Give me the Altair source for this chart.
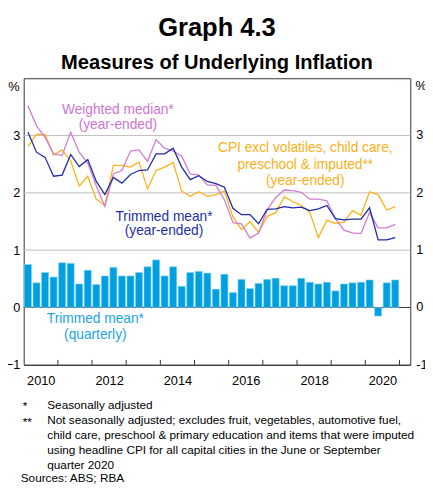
import altair as alt
import pandas as pd

# ---- data (quarterly, Mar-2010 .. Dec-2020) ----
first_year = 2010
n_quarters = 44

trimmed_mean_ye = [3.06, 2.71, 2.62, 2.29, 2.31, 2.67, 2.46, 2.58, 2.20, 1.97,
                   2.27, 2.17, 2.32, 2.39, 2.40, 2.68, 2.68, 2.78, 2.45, 2.23,
                   2.30, 2.20, 2.16, 2.10, 1.73, 1.62, 1.62, 1.46, 1.71, 1.72,
                   1.76, 1.74, 1.75, 1.69, 1.72, 1.78, 1.55, 1.53, 1.54, 1.54,
                   1.74, 1.18, 1.18, 1.22]
weighted_median_ye = [3.52, 3.17, 2.97, 2.68, 2.65, 3.06, 2.71, 2.52, 2.12, 1.76,
                      2.33, 2.39, 2.73, 2.75, 2.55, 2.93, 2.78, 2.73, 2.64, 2.33,
                      2.31, 2.14, 2.13, 1.88, 1.48, 1.46, 1.21, 1.30, 1.70, 1.92,
                      2.05, 2.04, 2.01, 1.89, 1.89, 1.86, 1.55, 1.35, 1.30, 1.29,
                      1.66, 1.39, 1.39, 1.45]
cpi_excl_ye = [2.81, 3.02, 3.02, 2.66, 2.75, 2.56, 2.12, 2.29, 1.89, 1.78,
               2.48, 2.48, 2.45, 2.54, 2.07, 2.39, 2.45, 2.53, 2.03, 1.94,
               2.02, 1.94, 1.97, 2.03, 1.58, 1.36, 1.50, 1.31, 1.59, 1.65,
               1.93, 1.85, 1.78, 1.66, 1.22, 1.52, 1.47, 1.49, 1.69, 1.61,
               2.02, 1.97, 1.70, 1.76]
trimmed_mean_q = [0.75, 0.43, 0.61, 0.53, 0.78, 0.77, 0.41, 0.65, 0.40, 0.55,
                  0.70, 0.55, 0.55, 0.61, 0.71, 0.83, 0.55, 0.71, 0.37, 0.61,
                  0.63, 0.60, 0.32, 0.58, 0.26, 0.49, 0.33, 0.42, 0.49, 0.51,
                  0.38, 0.38, 0.51, 0.44, 0.41, 0.44, 0.29, 0.41, 0.43, 0.44,
                  0.48, -0.15, 0.43, 0.48]

series_names = ["CPI excl", "Weighted median", "Trimmed mean"]
series_colors = ["#fcb316", "#d37ad6", "#1c2ca6"]
bar_color = "#009fe0"

y_ticks = [-1, 0, 1, 2, 3]
grid_vals = [1, 2, 3]
year_ticks = list(range(2011, 2022))
year_labels = [y + 0.5 for y in range(2010, 2021, 2)]

footnotes = [
    "Seasonally adjusted",
    "Not seasonally adjusted; excludes fruit, vegetables, automotive fuel,",
    "child care, preschool & primary education and items that were imputed",
    "using headline CPI for all capital cities in the June or September",
    "quarter 2020",
]

FONT = "Liberation Sans"

# ---- tables ----
qpos = [first_year + (i + 0.5) / 4 for i in range(n_quarters)]
qstart = [first_year + i / 4 + 0.022 for i in range(n_quarters)]
qend = [first_year + (i + 1) / 4 - 0.022 for i in range(n_quarters)]

bars_df = pd.DataFrame({"x": qstart, "x2": qend, "v": trimmed_mean_q})
lines_df = pd.concat([
    pd.DataFrame({"x": qpos, "v": vals, "s": name})
    for name, vals in zip(series_names, [cpi_excl_ye, weighted_median_ye, trimmed_mean_ye])
])

xscale = alt.Scale(domain=[2010, 2021.316], nice=False, zero=False)
yscale = alt.Scale(domain=[-1, 4], nice=False, zero=False)

W, H = 394, 292

grid = alt.Chart(pd.DataFrame({"g": grid_vals})).mark_rule(
    color="#bdbdbd", strokeWidth=1
).encode(y=alt.Y("g:Q", scale=yscale))

zero = alt.Chart(pd.DataFrame({"z": [0]})).mark_rule(
    color="#333333", strokeWidth=1
).encode(y=alt.Y("z:Q", scale=yscale))

bars = alt.Chart(bars_df).mark_bar(
    color=bar_color, stroke="#86d2f2", strokeWidth=0.6
).encode(
    x=alt.X("x:Q", scale=xscale,
            axis=alt.Axis(values=year_labels, labelExpr="'' + floor(datum.value)",
                          ticks=False, grid=False, domain=True, domainColor="#333333",
                          labelFont=FONT, labelFontSize=13, labelColor="#000000",
                          labelPadding=10, title=None)),
    x2="x2:Q",
    y=alt.Y("v:Q", scale=yscale,
            axis=alt.Axis(values=y_ticks, format="d", ticks=False, grid=False, domain=False,
                          labelFont=FONT, labelFontSize=13, labelColor="#000000",
                          labelPadding=4, title=None)),
    y2=alt.datum(0),
)

lines = alt.Chart(lines_df).mark_line(strokeWidth=1.3).encode(
    x=alt.X("x:Q", scale=xscale),
    y=alt.Y("v:Q", scale=yscale),
    color=alt.Color("s:N", scale=alt.Scale(domain=series_names, range=series_colors), legend=None),
    order=alt.Order("x:Q"),
    detail="s:N",
)

xticks = alt.Chart(pd.DataFrame({"t": year_ticks})).mark_rule(
    color="#333333", strokeWidth=1
).encode(x=alt.X("t:Q", scale=xscale), y=alt.value(H), y2=alt.value(H - 5))

right_labels = alt.Chart(pd.DataFrame({"t": y_ticks, "lab": [str(t) for t in y_ticks]})).mark_text(
    font=FONT, fontSize=13, align="left", baseline="middle", color="#000000"
).encode(y=alt.Y("t:Q", scale=yscale), x=alt.value(W + 6), text="lab:N")


def txt(text, x, y, color="#000000", size=14, align="center", weight="normal", lh=None):
    kw = dict(font=FONT, fontSize=size, align=align, baseline="middle",
              color=color, fontWeight=weight)
    if lh is not None:
        kw["lineHeight"] = lh
    return alt.Chart(pd.DataFrame({"a": [0]})).mark_text(**kw).encode(
        x=alt.value(x), y=alt.value(y), text=alt.value(text))


annos = [
    txt("Graph 4.3", W / 2, -51, size=26, weight="bold"),
    txt("Measures of Underlying Inflation", W / 2, -15, size=20.5, weight="bold"),
    txt("%", -10, 9, size=13),
    txt("%", W + 11, 8, size=13),
    txt(["Weighted median*", "(year-ended)"], 96, 32, color="#cf74d2", size=14, lh=16),
    txt(["CPI excl volatiles, child care,", "preschool & imputed**", "(year-ended)"],
        287, 71, color="#fbb017", size=14, lh=17),
    txt(["Trimmed mean*", "(year-ended)"], 143, 141, color="#1f2ea3", size=14, lh=15),
    txt(["Trimmed mean*", "(quarterly)"], 73, 245, color="#1ba6e2", size=14, lh=17),
    txt("*", -1, 334, size=12, align="left"),
    txt("**", -1, 350, size=12, align="left"),
    txt(footnotes, 24, 333, size=12, align="left", lh=15.2),
    txt("Sources: ABS; RBA", -3, 407, size=12, align="left"),
]

chart = alt.layer(grid, zero, bars, lines, xticks, right_labels, *annos).properties(
    width=W, height=H,
    autosize=alt.AutoSizeParams(type="none"),
    padding={"left": 16, "top": 67, "right": 15, "bottom": 122},
).configure_view(stroke="#333333", strokeWidth=1)

chart.save("out.html", embed_options={"renderer": "svg", "actions": False})
